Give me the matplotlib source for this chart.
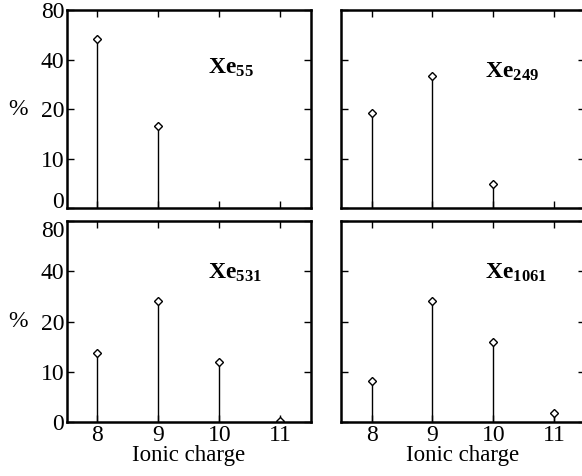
import numpy as np
import matplotlib
matplotlib.use('Agg')
import matplotlib.pyplot as plt

plt.rcParams['font.family'] = 'Liberation Serif'
plt.rcParams['mathtext.fontset'] = 'custom'
plt.rcParams['mathtext.rm'] = 'Liberation Serif'
plt.rcParams['mathtext.bf'] = 'Liberation Serif:bold'

# datos
charges = [8, 9, 10, 11]
xe55 = [53, 15.8, 0, 0]
xe249 = [18.9, 31.8, 4.9, 0]
xe531 = [12.9, 26.6, 11.5, 0.2]
xe1061 = [8.2, 26.4, 15.1, 1.8]
labels = [r'$\mathbf{Xe_{55}}$', r'$\mathbf{Xe_{249}}$',
          r'$\mathbf{Xe_{531}}$', r'$\mathbf{Xe_{1061}}$']
yticks = [0, 10, 20, 40, 80]


# escala: lineal de 0 a 10, logaritmica (base 2) arriba
def fwd(y):
    y = np.asarray(y, dtype=float)
    return np.where(y <= 10, y / 10.0, 1 + np.log2(np.maximum(y, 10) / 10.0))


def inv(p):
    p = np.asarray(p, dtype=float)
    return np.where(p <= 1, p * 10.0, 10.0 * 2 ** (np.maximum(p, 1) - 1))


fig = plt.figure(figsize=(5.82, 4.76), dpi=100)
pos = [[0.115, 0.563, 0.419, 0.416], [0.586, 0.563, 0.419, 0.416],
       [0.115, 0.113, 0.419, 0.423], [0.586, 0.113, 0.419, 0.423]]
series = [xe55, xe249, xe531, xe1061]
txt_y = [0.71, 0.69, 0.74, 0.74]
txt_x = [0.578, 0.59, 0.578, 0.59]

for i in range(4):
    ax = fig.add_axes(pos[i])
    ax.set_yscale('function', functions=(fwd, inv))
    vals = series[i]
    xs = [c for c, v in zip(charges, vals) if v > 0]
    vs = [v for v in vals if v > 0]
    ax.vlines(xs, 0, vs, color='black', lw=1)
    ax.plot(xs, vs, 'D', ms=4, mfc='white', mec='black', mew=1)
    ax.set_xlim(7.5, 11.5)
    ax.set_ylim(0, 80)
    ax.set_xticks(charges)
    ax.set_yticks(yticks)
    ax.minorticks_off()
    ax.tick_params(direction='in', length=5, width=1, top=True, right=True,
                   labelsize=17, pad=2)
    if i < 2:
        ax.tick_params(labelbottom=False)
    else:
        ax.set_xlabel('Ionic charge', fontsize=16.5, labelpad=-1)
    if i % 2 == 1:
        ax.tick_params(labelleft=False)
    else:
        ax.text(-0.2, 0.5, '%', transform=ax.transAxes, fontsize=17,
                ha='center', va='center')
        tl = ax.get_yticklabels()
        if i == 0:
            tl[0].set_va('baseline')
        else:
            tl[-1].set_va('top')
    for s in ax.spines.values():
        s.set_linewidth(1.8)
    ax.text(txt_x[i], txt_y[i], labels[i], transform=ax.transAxes,
            fontsize=17, ha='left', va='center')

fig.savefig('out.png', dpi=100)
